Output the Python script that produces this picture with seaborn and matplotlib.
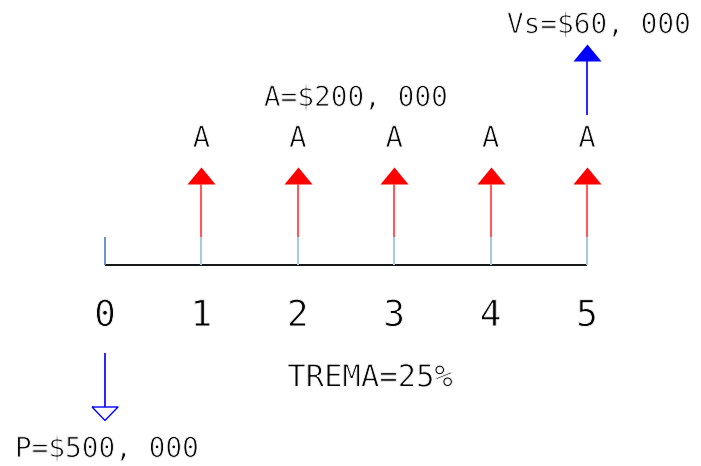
import numpy as np
import pandas as pd
import matplotlib
matplotlib.use('Agg')
import matplotlib.pyplot as plt
import matplotlib.patheffects as pe
import seaborn as sns

# cash flow diagram data
periods = [0, 1, 2, 3, 4, 5]
annuity_periods = [1, 2, 3, 4, 5]
annuity_label = 'A'
annuity_text = 'A=$200, 000'
salvage_period = 5
salvage_text = 'Vs=$60, 000'
present_period = 0
present_text = 'P=$500, 000'
rate_text = 'TREMA=25%'

sns.set_style('white')
plt.rcParams['font.family'] = ['DejaVu Sans Mono', 'DejaVu Sans']

fig = plt.figure(figsize=(7.01, 4.66), dpi=100)
ax = fig.add_axes([0, 0, 1, 1])
ax.set_xlim(-105 / 96.4, (701 - 105) / 96.4)
ax.set_ylim(-201, 265)
ax.axis('off')

# thin the glyph strokes a little, like a CAD font
thin = [pe.Normal(), pe.Stroke(linewidth=0.7, foreground='white')]

# time line
ax.hlines(0, periods[0], periods[-1], color='black', lw=1.3)
ax.vlines(periods[0], 0, 28, color='#4f7fbf', lw=1.2)
ax.vlines(annuity_periods, 0, 28, color='#a9c8e8', lw=1.5)

# annual income arrows (red)
ax.vlines(annuity_periods, 28, 81, color='#ff5a5a', lw=1.5)
up_head = [(-14, 0), (14, 0), (0, 17)]
heads = pd.DataFrame({'x': annuity_periods, 'y': [81] * len(annuity_periods)})
sns.scatterplot(data=heads, x='x', y='y', marker=up_head, s=24.5 ** 2,
                color='#ff0000', edgecolor='#ff0000', linewidth=0, ax=ax)

# salvage value arrow (blue)
ax.vlines(salvage_period, 150, 204, color='#0000ff', lw=1.2)
sns.scatterplot(x=[salvage_period], y=[204], marker=up_head, s=24.5 ** 2,
                color='#0000ff', edgecolor='#0000ff', linewidth=0, ax=ax)

# investment arrow (down, hollow)
ax.vlines(present_period, -88, -142, color='#0000ff', lw=1.2)
down_head = [(-13.5, 0), (13.5, 0), (0, -14), (-13.5, 0)]
ax.scatter([present_period], [-142], marker=down_head, s=19.4 ** 2,
           facecolor='none', edgecolor='#0000ff', linewidth=1.0)

# labels
for p in annuity_periods:
    ax.text(p, 126, annuity_label, ha='center', va='center', fontsize=21,
            color='black', path_effects=thin)
for p in periods:
    ax.text(p, -51, str(p), ha='center', va='center', fontsize=26,
            color='black', path_effects=thin)

ax.text((356 - 105) / 96.4, 167, annuity_text, ha='center', va='center',
        fontsize=20, color='black', path_effects=thin)
ax.text((599 - 105) / 96.4, 240, salvage_text, ha='center', va='center',
        fontsize=20, color='black', path_effects=thin)
ax.text((370 - 105) / 96.4, -113, rate_text, ha='center', va='center',
        fontsize=22, color='black', path_effects=thin)
ax.text((107 - 105) / 96.4, -184, present_text, ha='center', va='center',
        fontsize=20, color='black', path_effects=thin)

fig.savefig('out.png', dpi=100)
